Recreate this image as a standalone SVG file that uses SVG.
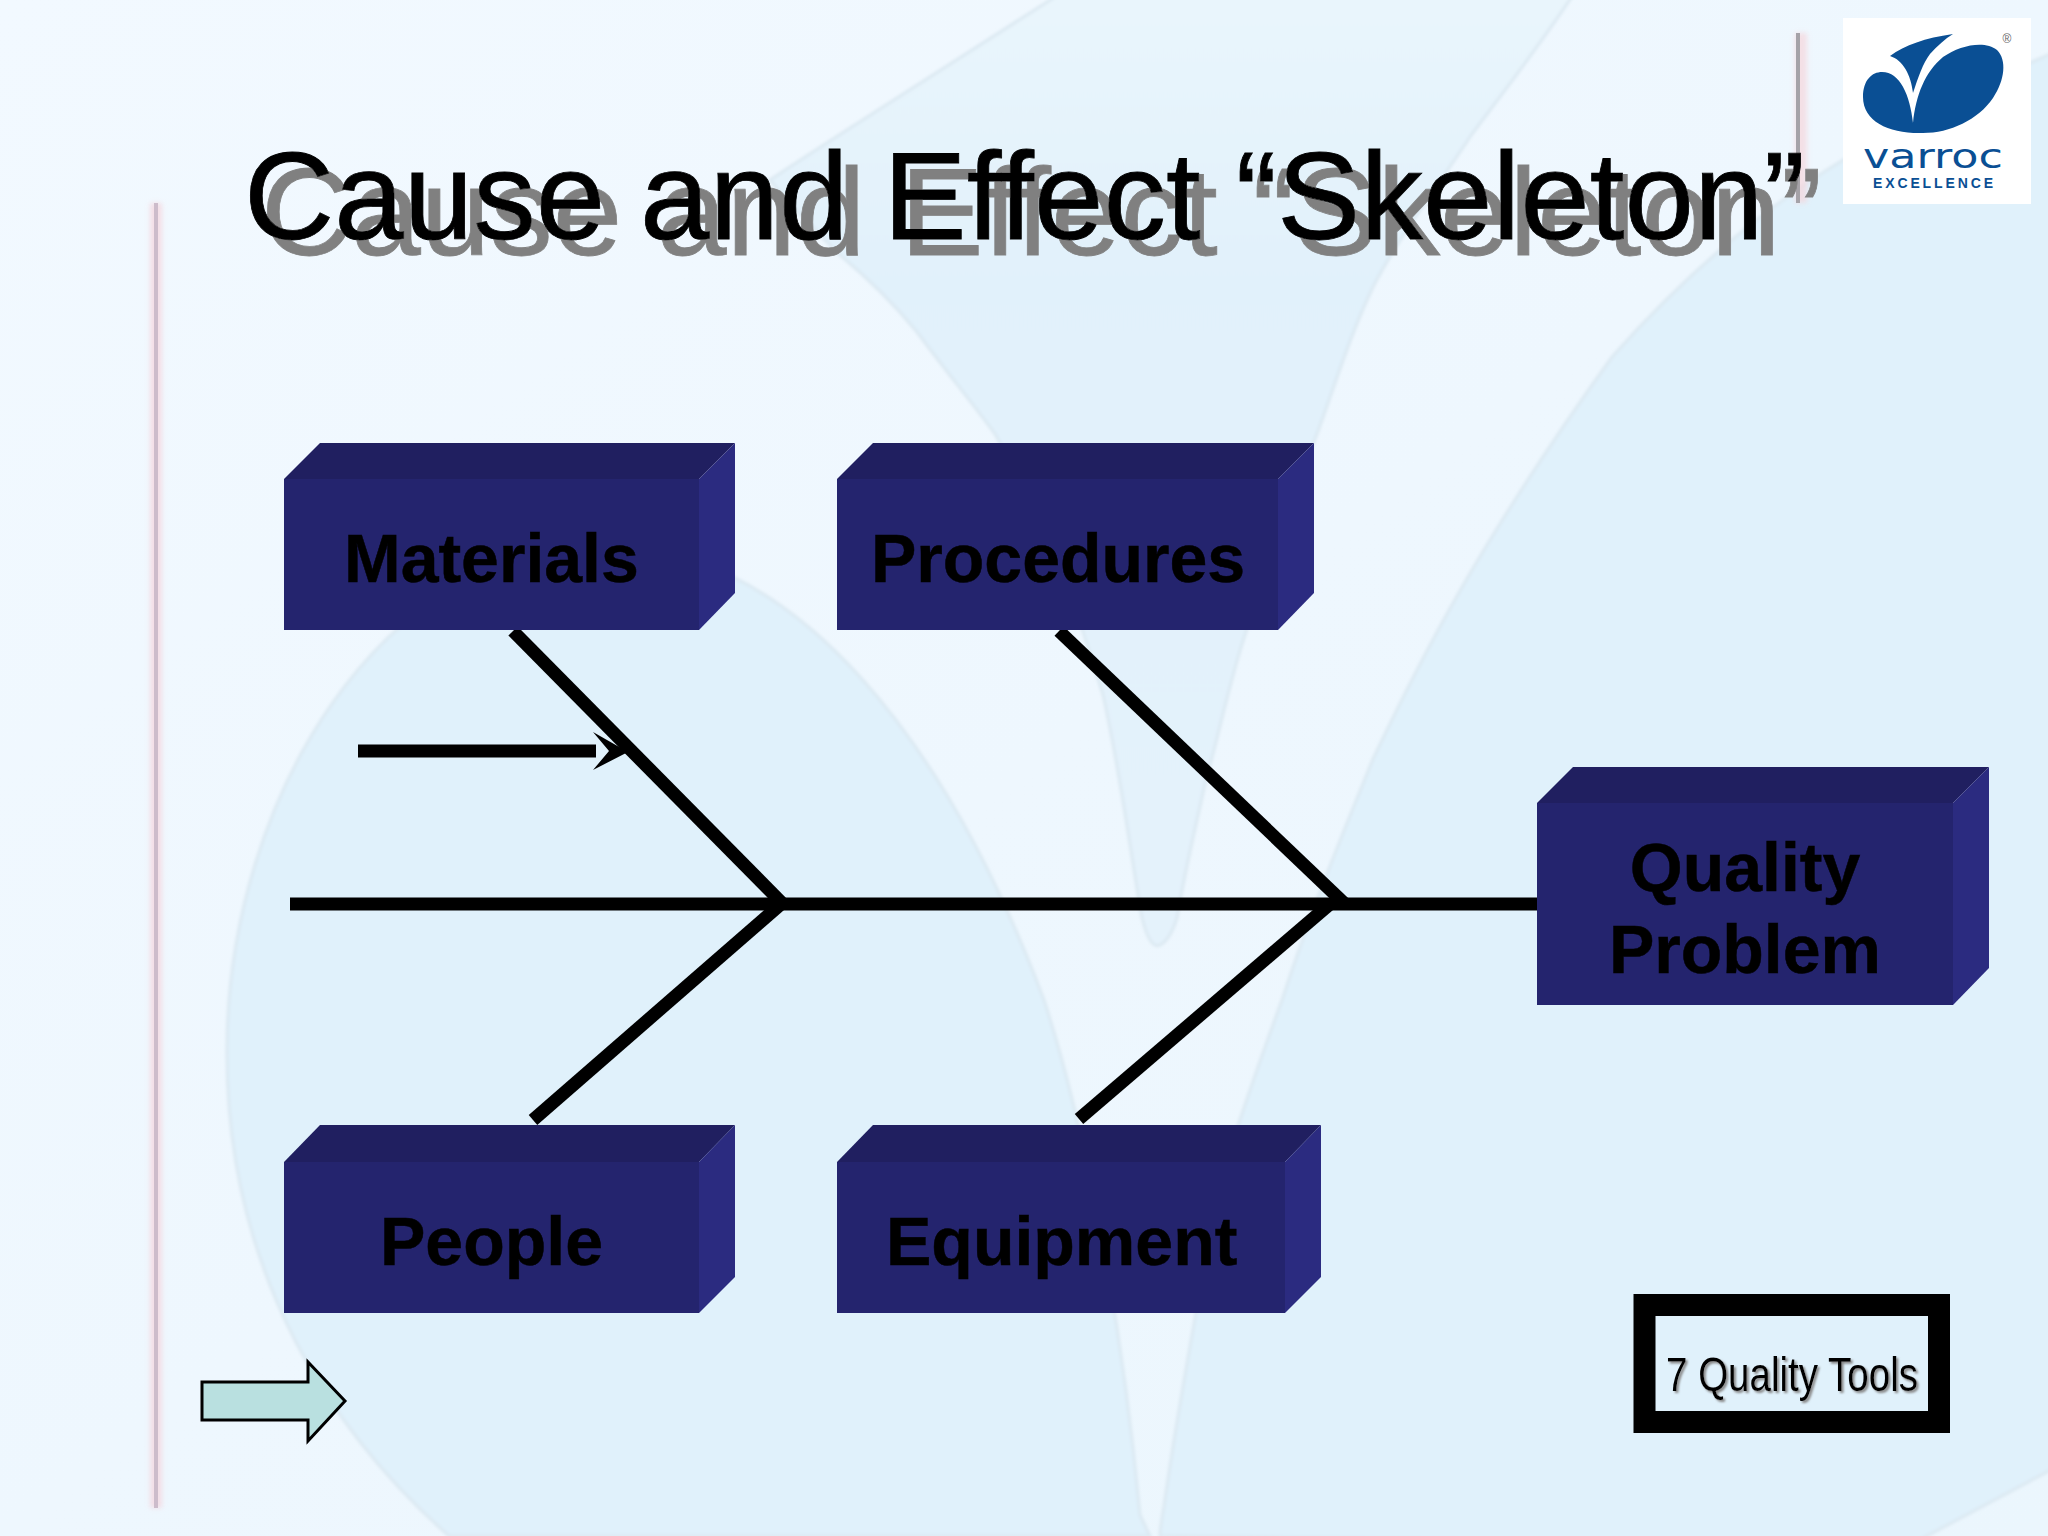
<svg xmlns="http://www.w3.org/2000/svg" width="2048" height="1536" viewBox="0 0 2048 1536">
<defs>
<linearGradient id="bg" x1="0" y1="0" x2="1" y2="1"><stop offset="0" stop-color="#f2f9ff"/><stop offset="0.5" stop-color="#eef7fe"/><stop offset="1" stop-color="#ebf6fd"/></linearGradient>
<linearGradient id="wing" x1="0" y1="0" x2="0" y2="1"><stop offset="0" stop-color="#e9f5fc"/><stop offset="0.3" stop-color="#e1f1fb"/><stop offset="1" stop-color="#e4f2fb"/></linearGradient>
<filter id="blur" x="-100%" y="-5%" width="300%" height="110%"><feGaussianBlur stdDeviation="2.5"/></filter>
<filter id="soft" x="-5%" y="-5%" width="110%" height="110%"><feGaussianBlur stdDeviation="1.5"/></filter>
<filter id="titleShadow" x="-2%" y="-10%" width="104%" height="130%"><feDropShadow dx="17" dy="16" stdDeviation="0" flood-color="#808080"/></filter>
<filter id="toolsShadow" x="-5%" y="-10%" width="110%" height="130%"><feDropShadow dx="2" dy="2" stdDeviation="1" flood-color="#888"/></filter>
<style>
.wm{fill:#e0f1fb;stroke:#dce9f2;stroke-width:3}
.front{fill:#24246e}
.top{fill:#201f60}
.side{fill:#2b2b80}
.lbl{font-family:"Liberation Sans",Arial,sans-serif;font-weight:700;font-size:68px;fill:#000;stroke:#000;stroke-width:.5}
.title{font-family:"Liberation Sans",Arial,sans-serif;font-size:125px;fill:#000;stroke:#000;stroke-width:.8}
.bone{stroke:#000;stroke-width:13;fill:none}
</style>
</defs>
<g id="background">
<rect width="2048" height="1536" fill="url(#bg)"/>
<g filter="url(#soft)">
<path class="wm" d="M449 1536C340 1440 225 1280 227 1048C228 800 380 548 600 545C800 545 950 750 1044 1000C1080 1110 1120 1300 1140 1515Q1146 1528 1150 1536Z"/>
<path class="wm" d="M1160 1536Q1160 1528 1164 1506C1180 1393 1197 1314 1215 1200C1235 1130 1260 1060 1282 1000C1315 900 1340 840 1373 759C1420 660 1479 542 1612 357C1680 280 1760 210 1843 160C1920 115 2000 75 2060 50L2060 1465L1910 1545Z"/>
<path class="wm" style="fill:url(#wing)" d="M1058 -5L861 121Q800 160 770 180C790 205 815 230 840 255C870 280 895 305 917 332C945 370 970 400 995 434C1040 510 1075 600 1103 695C1120 770 1130 850 1142 918Q1150 950 1160 945Q1170 940 1177 918C1185 870 1195 830 1205 784C1220 730 1230 680 1244 638C1265 570 1290 500 1317 434C1335 385 1350 335 1373 287C1400 235 1435 190 1472 134C1505 90 1540 45 1573 -5Z"/>
</g>
</g>
<g id="rules">
<rect x="150" y="203" width="12" height="1305" fill="#f5d3dc" opacity="0.7" filter="url(#blur)"/>
<rect x="154" y="203" width="4" height="1305" fill="#cdbccb"/>
<rect x="1795" y="33" width="12" height="170" fill="#f6d6dc" opacity="0.7" filter="url(#blur)"/>
<rect x="1796" y="33" width="4" height="170" fill="#a5a2a8"/>
</g>
<g id="logo">
<rect x="1843" y="18" width="188" height="186" fill="#fff"/>
<path fill="#0a4f94" d="M1953 34C1925 38 1905 45 1890 56C1903 60 1911 75 1913 93C1918 78 1923 63 1930 54C1937 46 1945 39 1953 34Z"/>
<path fill="#0a4f94" d="M1913 123C1916 95 1925 72 1943 57C1960 45 1985 40 1997 50C2007 60 2005 80 1993 98C1978 120 1950 133 1923 133C1890 134 1863 122 1863 97C1863 80 1872 72 1882 72C1900 72 1910 95 1913 123Z"/>
<text x="1863" y="168" font-family="'DejaVu Sans',sans-serif" font-size="33" fill="#0a4f94" textLength="140" lengthAdjust="spacingAndGlyphs">varroc</text>
<text x="1873" y="188" font-family="'Liberation Sans',Arial,sans-serif" font-weight="700" font-size="14" fill="#0a4f94" textLength="120">EXCELLENCE</text>
<text x="2007" y="43" text-anchor="middle" font-family="'Liberation Sans',Arial,sans-serif" font-size="12" fill="#666">®</text>
</g>
<g id="title">
<text class="title" x="244" y="239" filter="url(#titleShadow)">Cause and Effect “Skeleton”</text>
</g>
<g id="connectors">
<path class="bone" d="M290 904H1537"/>
<path class="bone" d="M513 631L783 904"/>
<path class="bone" d="M1059 631L1345 904"/>
<path class="bone" d="M533 1120L781 904"/>
<path class="bone" d="M1079 1119L1330 904"/>
<path d="M358 751H596" stroke="#000" stroke-width="13" fill="none"/>
<path d="M593 732L628 752L593 770L609 751Z" fill="#000"/>
</g>
<g id="materials">
<path class="front" d="M284 479H699V630H284Z"/><path class="top" d="M284 479L320 443H735L699 479Z"/><path class="side" d="M699 479L735 443V593L699 630Z"/>
<text class="lbl" x="344" y="582">Materials</text>
</g>
<g id="procedures">
<path class="front" d="M837 479H1278V630H837Z"/><path class="top" d="M837 479L873 443H1314L1278 479Z"/><path class="side" d="M1278 479L1314 443V593L1278 630Z"/>
<text class="lbl" x="871" y="582">Procedures</text>
</g>
<g id="quality-problem">
<path class="front" d="M1537 803H1953V1005H1537Z"/><path class="top" d="M1537 803L1573 767H1989L1953 803Z"/><path class="side" d="M1953 803L1989 767V968L1953 1005Z"/>
<text class="lbl" x="1745" y="891" text-anchor="middle">Quality</text>
<text class="lbl" x="1745" y="973" text-anchor="middle">Problem</text>
</g>
<g id="people">
<path class="front" d="M284 1162H699V1313H284Z"/><path class="top" d="M284 1162L320 1125H735L699 1162Z"/><path class="side" d="M699 1162L735 1125V1277L699 1313Z"/>
<text class="lbl" x="380" y="1265">People</text>
</g>
<g id="equipment">
<path class="front" d="M837 1162H1285V1313H837Z"/><path class="top" d="M837 1162L873 1125H1321L1285 1162Z"/><path class="side" d="M1285 1162L1321 1125V1277L1285 1313Z"/>
<text class="lbl" x="886" y="1265">Equipment</text>
</g>
<g id="seven-quality-tools">
<rect x="1644.500" y="1305" width="294.500" height="117" fill="none" stroke="#000" stroke-width="22"/>
<text x="1666" y="1391" font-family="'Liberation Sans',Arial,sans-serif" font-size="48" fill="#000" textLength="252" lengthAdjust="spacingAndGlyphs" filter="url(#toolsShadow)">7 Quality Tools</text>
</g>
<g id="next-arrow">
<path d="M202 1382H308V1362L345 1401L308 1441V1420H202Z" fill="#b9e0e0" stroke="#000" stroke-width="3"/>
</g>
</svg>
